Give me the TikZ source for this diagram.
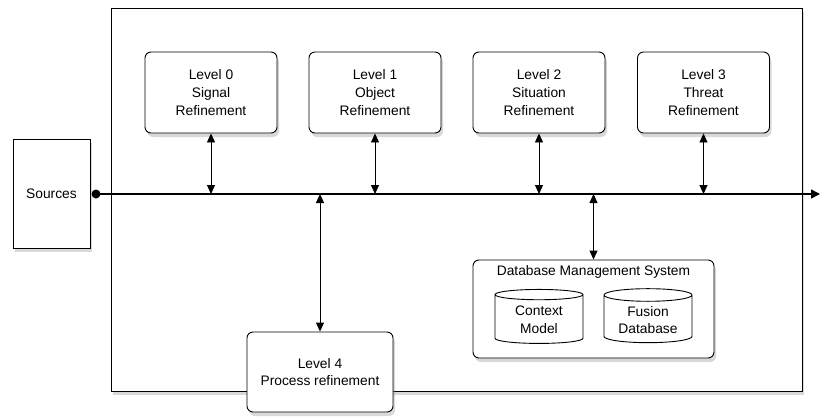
\documentclass[tikz,border=0pt]{standalone}
\usepackage{fontspec}
\setmainfont{Liberation Sans}
\usetikzlibrary{arrows.meta,shadows,shapes.geometric}

\tikzset{
	softshadow/.style={drop shadow={opacity=0.3,shadow xshift=2pt,shadow yshift=-4pt}},
	lvlbox/.style={draw,line width=0.9pt,rounded corners=6pt,fill=white,softshadow,align=center,
		minimum width=132pt,minimum height=81pt,inner sep=2pt},
	dbcyl/.style={draw,line width=0.9pt,cylinder,shape border rotate=90,aspect=0.2,fill=white,align=center,
		minimum width=88pt,minimum height=54pt,inner sep=2pt},
	link/.style={line width=0.9pt,{Triangle[length=9pt,width=8pt]}-{Triangle[length=9pt,width=8pt]}},
}

\begin{document}
\begin{tikzpicture}[x=1pt,y=1pt,yscale=-1,font=\fontsize{13.8}{17.7}\selectfont]
	\useasboundingbox (0,0) rectangle (820,416);
	
	% Frame
	\draw[line width=0.8pt,fill=white,softshadow] (111,8) rectangle (802,391);
	
	% Sources
	\node[draw,line width=0.9pt,fill=white,softshadow,minimum width=77pt,minimum height=109pt] (src) at (51.5,193.5) {Sources};
	
	% Levels 0-3
	\node[lvlbox] (lv0) at (211,92.5) {Level 0\\Signal\\Refinement};
	\node[lvlbox] (lv1) at (375,92.5) {Level 1\\Object\\Refinement};
	\node[lvlbox] (lv2) at (539,92.5) {Level 2\\Situation\\Refinement};
	\node[lvlbox] (lv3) at (703.5,92.5) {Level 3\\Threat\\Refinement};
	
	% Level 4
	\node[lvlbox,minimum width=146pt,minimum height=80pt] (lv4) at (320,372) {Level 4\\Process refinement};
	
	% DBMS
	\node[draw,line width=0.9pt,rounded corners=6pt,fill=white,softshadow,minimum width=241pt,minimum height=98pt] (dbms) at (593.5,309) {};
	\node[inner sep=0pt] (dbmstitle) at (593.5,272) {Database Management System};
	\node[dbcyl] (ctx) at (539,320) {Context\\Model};
	\node[dbcyl] (fdb) at (648,320) {Fusion\\Database};
	
	% Bus
	\coordinate (busL) at (96,194);
	\coordinate (busR) at (820,194);
	\draw[line width=1.6pt,-{Triangle[length=9pt,width=9pt]}] (busL) -- (busR);
	\fill (busL) circle (4.5pt);
	
	% Connections
	\draw[link] (lv0.south) -- (lv0.south |- busL);
	\draw[link] (lv1.south) -- (lv1.south |- busL);
	\draw[link] (lv2.south) -- (lv2.south |- busL);
	\draw[link] (lv3.south) -- (lv3.south |- busL);
	\draw[link] (lv4.north) -- (lv4.north |- busL);
	\draw[link] (dbms.north) -- (dbms.north |- busL);
	
\end{tikzpicture}
\end{document}
